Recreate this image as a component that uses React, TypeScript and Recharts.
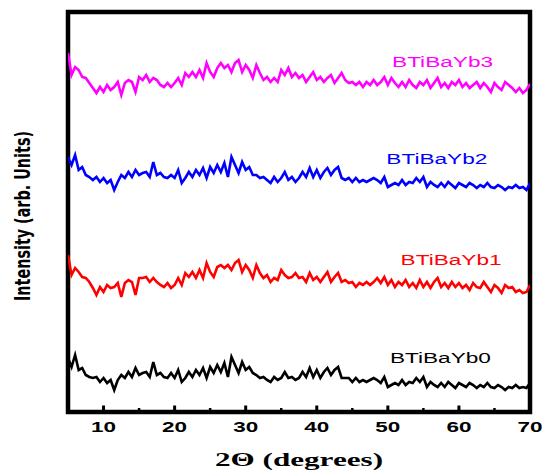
import { LineChart, Line, XAxis, YAxis, ReferenceArea, ReferenceDot } from "recharts"

// 2θ sampling grid: 5° to 70° every 0.5°
const THETA_START = 5
const THETA_STEP = 0.5

const X_TICKS = [10, 15, 20, 25, 30, 35, 40, 45, 50, 55, 60, 65, 70]

// intensities (arb. units), one value per 0.5°
const BTiBaYb0 = [
    54, 45, 57, 42, 44, 37, 35, 34, 35, 30,
    34, 29, 32, 22, 32, 37, 34, 40, 35, 44,
    37, 39, 40, 35, 50, 37, 39, 35, 34, 39,
    34, 42, 30, 34, 40, 35, 42, 37, 44, 34,
    45, 39, 47, 40, 49, 35, 55, 47, 39, 50,
    42, 45, 39, 37, 34, 35, 32, 30, 35, 32,
    34, 40, 34, 35, 32, 34, 40, 35, 44, 35,
    42, 34, 40, 44, 37, 42, 45, 34, 34, 34,
    30, 34, 30, 32, 30, 32, 34, 32, 29, 35,
    25, 27, 29, 27, 32, 27, 30, 29, 34, 30,
    35, 25, 30, 27, 25, 29, 25, 30, 27, 24,
    29, 27, 25, 29, 27, 24, 27, 25, 29, 25,
    24, 27, 25, 22, 25, 24, 27, 24, 25, 24,
    29,
]

const BTiBaYb1 = [
    157, 137, 144, 140, 135, 134, 130, 124, 117, 125,
    120, 127, 124, 125, 129, 115, 129, 132, 130, 117,
    134, 134, 135, 130, 134, 130, 127, 125, 129, 124,
    127, 134, 127, 139, 135, 140, 134, 142, 134, 149,
    140, 135, 145, 147, 144, 147, 142, 149, 152, 140,
    147, 142, 134, 147, 139, 134, 137, 130, 134, 132,
    142, 137, 134, 135, 139, 134, 135, 130, 139, 132,
    135, 130, 135, 140, 130, 135, 139, 130, 132, 129,
    130, 125, 129, 127, 130, 127, 130, 134, 129, 135,
    127, 132, 125, 130, 127, 132, 125, 129, 124, 132,
    125, 130, 124, 130, 134, 125, 129, 124, 130, 125,
    129, 124, 127, 122, 129, 125, 124, 130, 125, 120,
    127, 124, 119, 127, 124, 125, 120, 122, 119, 120,
    127,
]

const BTiBaYb2 = [
    255, 247, 257, 242, 245, 237, 235, 232, 235, 230,
    234, 229, 232, 222, 230, 237, 234, 240, 235, 242,
    237, 239, 240, 235, 250, 237, 239, 235, 234, 237,
    234, 242, 229, 234, 240, 235, 242, 237, 244, 234,
    245, 239, 247, 240, 249, 235, 255, 247, 239, 250,
    242, 245, 237, 237, 234, 235, 232, 229, 235, 230,
    234, 240, 232, 235, 230, 234, 240, 235, 244, 235,
    242, 234, 240, 244, 237, 242, 245, 234, 232, 234,
    230, 234, 230, 232, 230, 232, 234, 232, 229, 235,
    225, 227, 229, 227, 232, 227, 230, 229, 234, 230,
    235, 225, 230, 227, 225, 229, 225, 230, 227, 224,
    229, 227, 225, 229, 227, 224, 227, 225, 229, 225,
    224, 227, 225, 222, 225, 224, 227, 224, 225, 222,
    229,
]

const BTiBaYb3 = [
    359, 337, 345, 342, 335, 334, 329, 324, 319, 325,
    320, 327, 322, 325, 330, 317, 329, 332, 330, 320,
    335, 332, 337, 330, 334, 332, 327, 325, 329, 325,
    329, 334, 327, 339, 335, 340, 335, 342, 334, 349,
    340, 335, 344, 349, 344, 347, 340, 349, 352, 340,
    347, 342, 334, 347, 339, 332, 335, 330, 334, 330,
    342, 337, 344, 335, 339, 334, 337, 330, 335, 340,
    332, 335, 330, 334, 337, 329, 334, 339, 332, 329,
    330, 327, 330, 325, 330, 327, 332, 327, 330, 335,
    327, 334, 329, 325, 330, 325, 332, 327, 324, 330,
    327, 332, 324, 329, 334, 325, 329, 324, 330, 327,
    332, 325, 329, 324, 327, 330, 324, 329, 325, 320,
    329, 325, 322, 330, 327, 324, 320, 324, 319, 322,
    328,
]

const SERIES = [
    { key: "yb0", name: "BTiBaYb0", color: "#000000", values: BTiBaYb0, labelAt: [57.4, 54] },
    { key: "yb1", name: "BTiBaYb1", color: "#ff0000", values: BTiBaYb1, labelAt: [58.9, 152] },
    { key: "yb2", name: "BTiBaYb2", color: "#0000ff", values: BTiBaYb2, labelAt: [56.9, 253] },
    { key: "yb3", name: "BTiBaYb3", color: "#ff00ff", values: BTiBaYb3, labelAt: [57.7, 350] },
]

const rows = BTiBaYb0.map((_, i) => {
    const row: Record<string, number> = { theta: THETA_START + i * THETA_STEP }
    SERIES.forEach(s => { row[s.key] = s.values[i] })
    return row
})

const SANS = "'Liberation Sans', Arial, sans-serif"

function ThetaTick({ x, y, payload }: any) {
    const major = payload.value % 10 === 0
    return (
        <g>
            <line x1={x} x2={x} y1={y} y2={y - (major ? 6.5 : 4)} stroke="#000" strokeWidth={major ? 3 : 2.5} />
            {major && (
                <text x={x} y={y + 20} textAnchor="middle" fontFamily={SANS} fontWeight="bold"
                    fontSize={14} textLength={25} lengthAdjust="spacingAndGlyphs" fill="#000">
                    {payload.value}
                </text>
            )}
        </g>
    )
}

function XTitle({ viewBox }: any) {
    const cx = viewBox.x + viewBox.width / 2
    return (
        <text x={cx} y={466} textAnchor="middle" fontFamily="'Liberation Serif', 'Times New Roman', serif"
            fontWeight="bold" fontSize={18} textLength={168} lengthAdjust="spacingAndGlyphs" fill="#000">
            2Θ (degrees)
        </text>
    )
}

function YTitle() {
    return (
        <text x={30} y={216} transform="rotate(-90, 30, 216)" textAnchor="middle"
            fontFamily="'Liberation Sans Narrow', 'DejaVu Sans Condensed', sans-serif"
            fontWeight="bold" fontSize={21} textLength={170} lengthAdjust="spacingAndGlyphs" fill="#000">
            Intensity (arb. Units)
        </text>
    )
}

export default function App() {
    return (
        <div style={{ position: "absolute", left: 0, top: 0, width: 550, height: 475, background: "#fff" }}>
            <LineChart width={550} height={475} data={rows} margin={{ top: 12, right: 20, bottom: 0, left: 0 }}>
                <XAxis dataKey="theta" type="number" domain={[5, 70]} ticks={X_TICKS} interval={0}
                    allowDataOverflow axisLine={false} tickLine={false} tickSize={0} tickMargin={0}
                    height={63} tick={<ThetaTick />} label={(p: any) => <XTitle {...p} />} />
                <YAxis type="number" domain={[0, 400]} width={68} tick={false} axisLine={false}
                    tickLine={false} allowDataOverflow label={() => <YTitle />} />
                {SERIES.map(s => (
                    <Line key={s.key} dataKey={s.key} name={s.name} type="linear" stroke={s.color}
                        strokeWidth={2.6} dot={false} isAnimationActive={false} />
                ))}
                {SERIES.map(s => (
                    <ReferenceDot key={s.key + "-label"} x={s.labelAt[0]} y={s.labelAt[1]} r={0}
                        ifOverflow="visible"
                        shape={(p: any) => (
                            <text x={p.cx} y={p.cy + 5} textAnchor="middle" fontFamily={SANS} fontSize={14}
                                textLength={101} lengthAdjust="spacingAndGlyphs" fill={s.color}>
                                {s.name}
                            </text>
                        )} />
                ))}
                <ReferenceArea x1={5} x2={70} y1={0} y2={400} fill="none" fillOpacity={0}
                    stroke="#000" strokeWidth={4.5} ifOverflow="visible" />
            </LineChart>
        </div>
    )
}
